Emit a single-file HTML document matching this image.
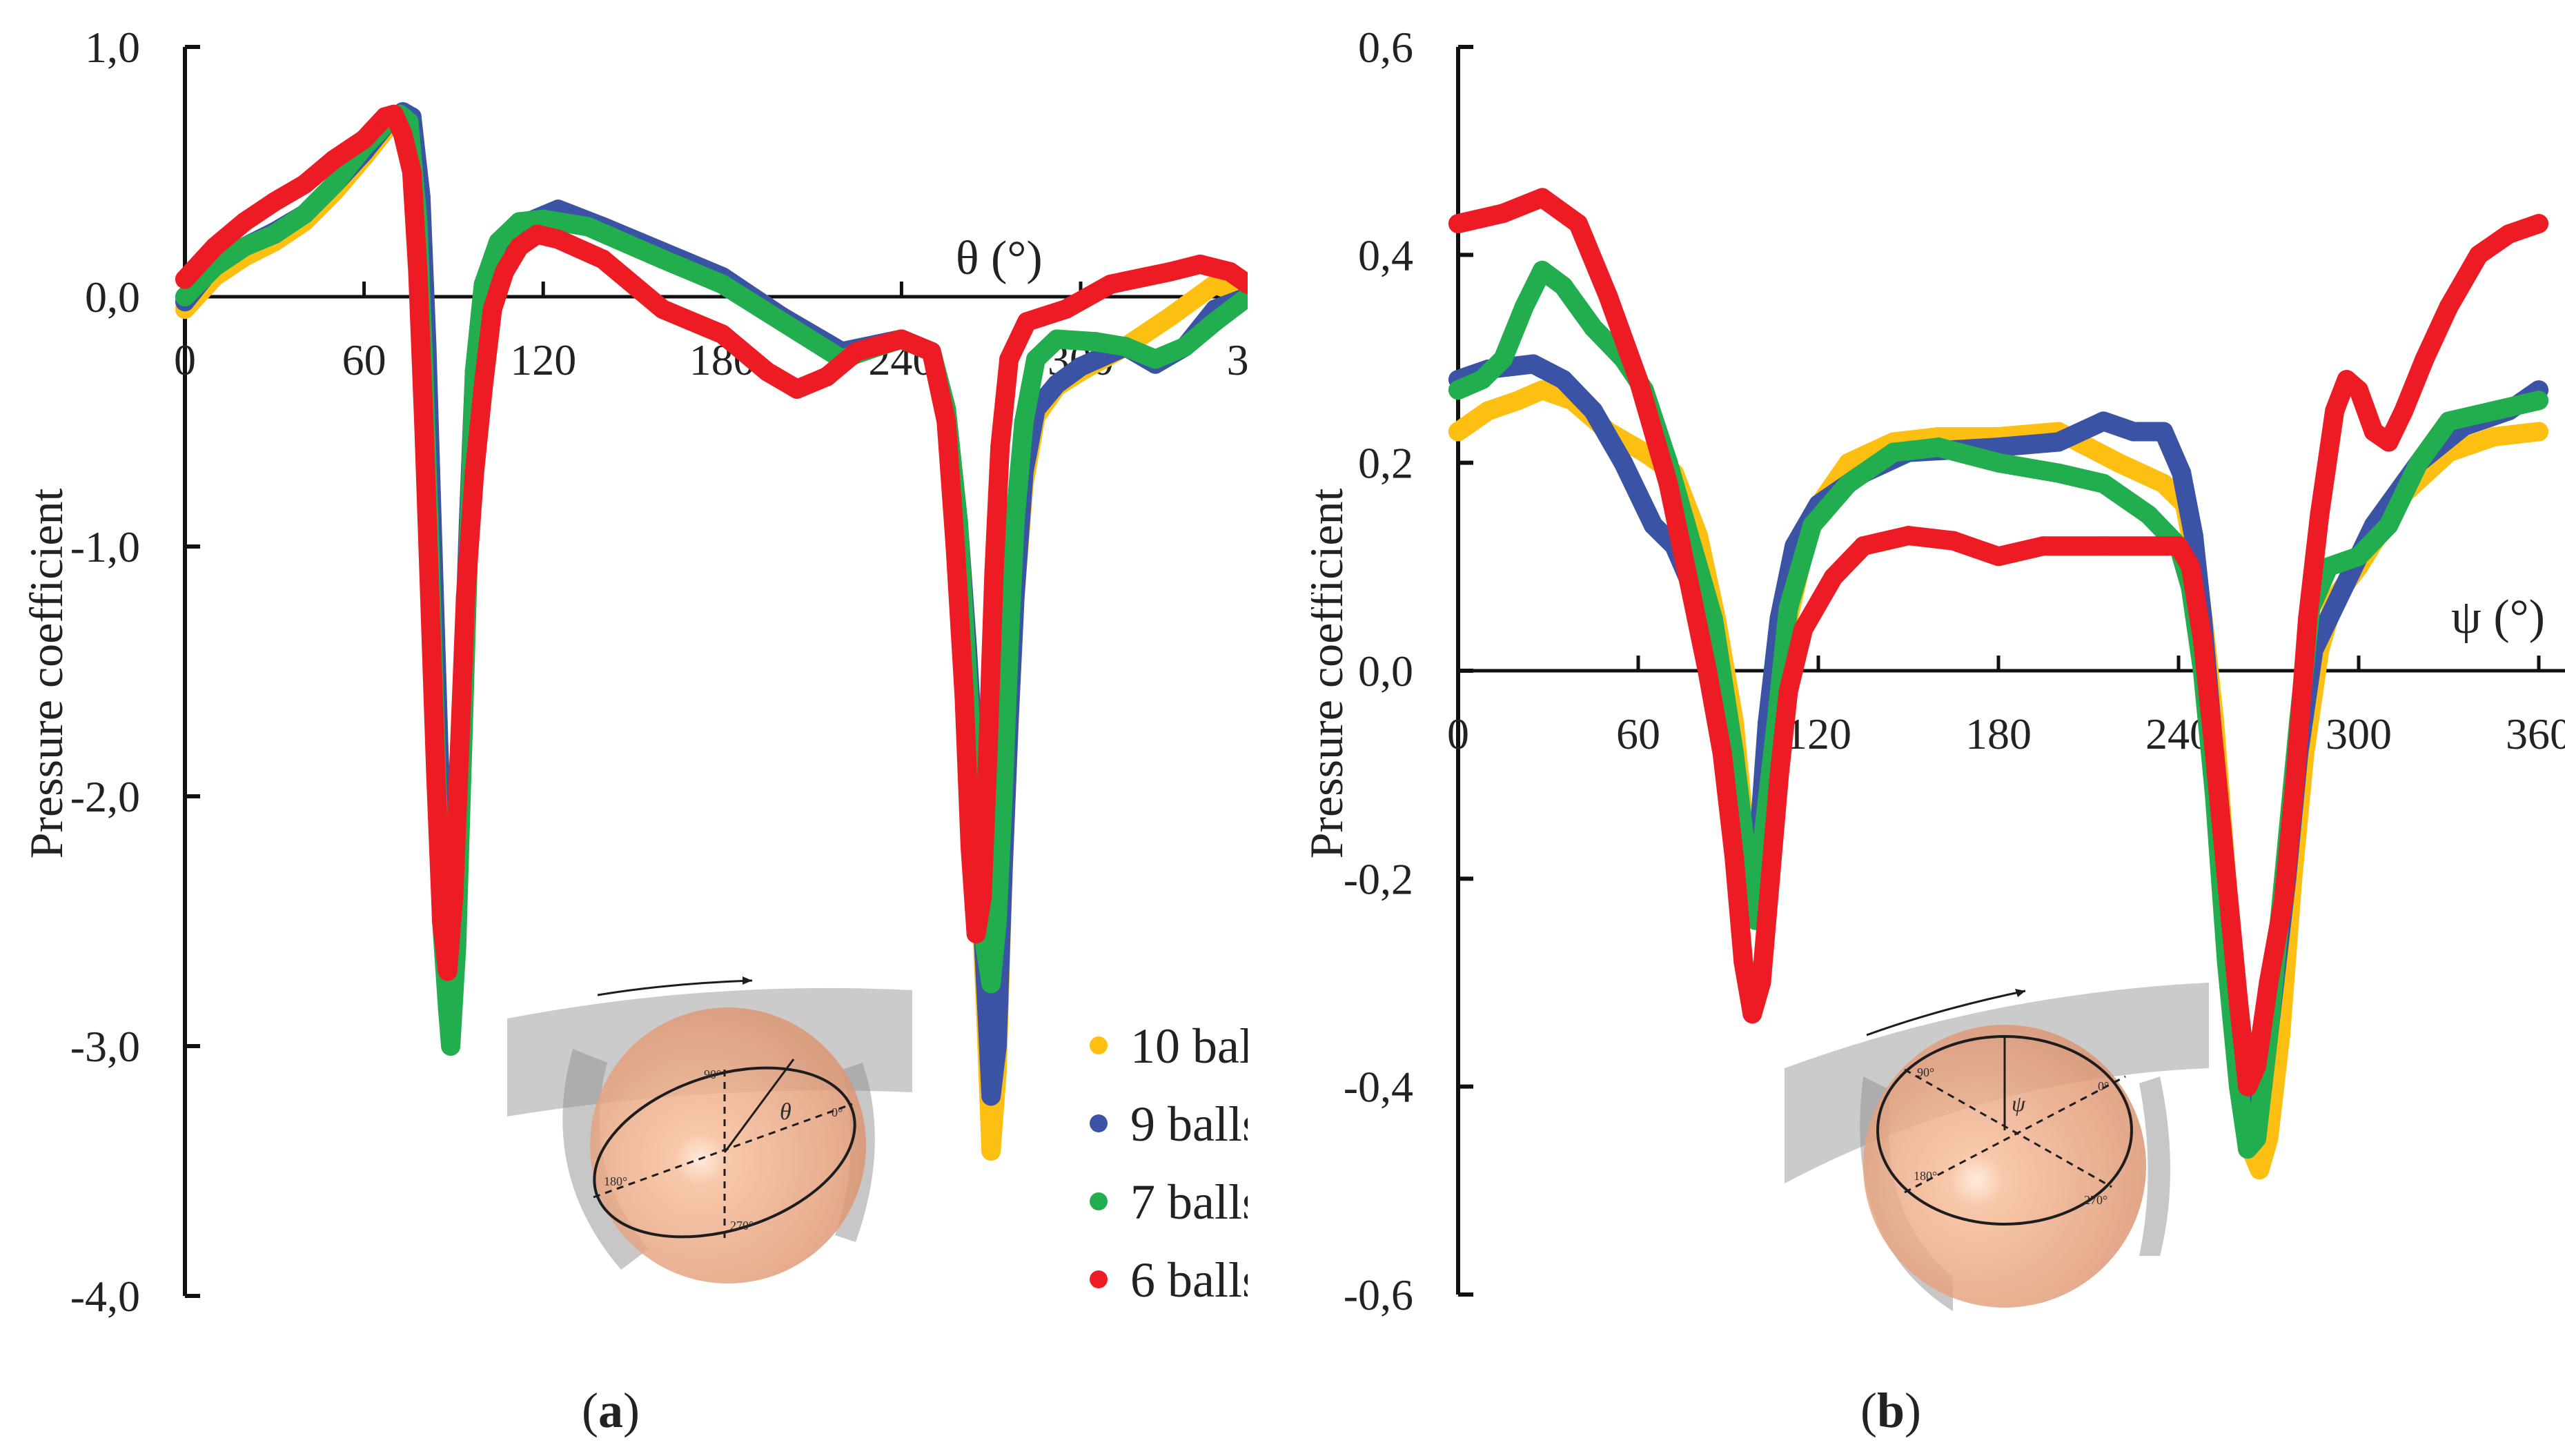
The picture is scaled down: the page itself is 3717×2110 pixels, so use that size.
<!DOCTYPE html>
<html><head><meta charset="utf-8"><style>
html,body{margin:0;padding:0;background:#fff}
svg{display:block}
text{font-family:"Liberation Serif",serif;fill:#222}
</style></head><body>
<svg id="fig" width="3717" height="2110" viewBox="0 0 3717 2110" xmlns="http://www.w3.org/2000/svg">
<defs>
<radialGradient id="ball" cx="0.4" cy="0.55" r="0.65">
<stop offset="0" stop-color="#fde7d8"/><stop offset="0.15" stop-color="#f6b994"/><stop offset="1" stop-color="#d88c68"/>
</radialGradient>
<clipPath id="clipA"><rect x="0" y="0" width="1808" height="2110"/></clipPath>
<clipPath id="clipB"><rect x="1900" y="0" width="1817" height="2110"/></clipPath>
</defs>
<g id="insetA" opacity="0.95">
<path d="M735 1476 Q1030 1420 1322 1435 L1322 1583 Q1030 1570 735 1618 Z" fill="#9a9a9a" opacity="0.55"/>
<path d="M830 1520 Q780 1700 900 1840 L940 1810 Q840 1690 880 1540 Z" fill="#8a8a8a" opacity="0.5"/>
<path d="M1250 1540 Q1290 1660 1240 1800 L1210 1790 Q1250 1670 1220 1550 Z" fill="#8a8a8a" opacity="0.5"/>
<circle cx="1055" cy="1660" r="200" fill="url(#ball)" opacity="0.85"/>
<ellipse cx="1050" cy="1670" rx="195" ry="112" transform="rotate(-18 1050 1670)" fill="none" stroke="#111" stroke-width="4"/>
<line x1="860" y1="1735" x2="1235" y2="1600" stroke="#111" stroke-width="3" stroke-dasharray="10 8"/>
<line x1="1050" y1="1550" x2="1050" y2="1800" stroke="#111" stroke-width="3" stroke-dasharray="10 8"/>
<line x1="1050" y1="1670" x2="1150" y2="1535" stroke="#111" stroke-width="3"/>
<path d="M866 1442 Q970 1425 1090 1421" fill="none" stroke="#111" stroke-width="3"/>
<path d="M1090 1421 l-14 -6 l0 12 z" fill="#111"/>
<text x="1020" y="1563" font-size="18">90°</text><text x="1205" y="1618" font-size="18">0°</text>
<text x="875" y="1718" font-size="18">180°</text><text x="1058" y="1782" font-size="18">270°</text>
<text x="1130" y="1622" font-size="34" font-style="italic">θ</text>
</g>
<g id="insetB" opacity="0.95">
<path d="M2586 1548 Q2880 1440 3201 1424 L3201 1548 Q2880 1560 2586 1715 Z" fill="#9a9a9a" opacity="0.55"/>
<path d="M2700 1560 Q2670 1800 2830 1900 L2830 1850 Q2720 1760 2740 1580 Z" fill="#8a8a8a" opacity="0.5"/>
<path d="M3130 1560 Q3160 1700 3130 1820 L3100 1820 Q3125 1700 3100 1570 Z" fill="#8a8a8a" opacity="0.5"/>
<circle cx="2905" cy="1690" r="205" fill="url(#ball)" opacity="0.85"/>
<ellipse cx="2905" cy="1638" rx="184" ry="136" fill="none" stroke="#111" stroke-width="4"/>
<line x1="2760" y1="1550" x2="3060" y2="1720" stroke="#111" stroke-width="3" stroke-dasharray="10 8"/>
<line x1="2760" y1="1728" x2="3080" y2="1560" stroke="#111" stroke-width="3" stroke-dasharray="10 8"/>
<line x1="2905" y1="1638" x2="2905" y2="1502" stroke="#111" stroke-width="3"/>
<path d="M2705 1500 Q2810 1462 2935 1436" fill="none" stroke="#111" stroke-width="3"/>
<path d="M2935 1436 l-15 -3 l4 12 z" fill="#111"/>
<text x="2778" y="1560" font-size="18">90°</text><text x="3040" y="1580" font-size="18">0°</text>
<text x="2773" y="1710" font-size="18">180°</text><text x="3020" y="1745" font-size="18">270°</text>
<text x="2915" y="1610" font-size="32" font-style="italic">ψ</text>
</g>
<g id="panelA" clip-path="url(#clipA)"></g>
<g id="panelB" clip-path="url(#clipB)"></g>
<text x="885" y="2068" font-size="72" text-anchor="middle">(<tspan font-weight="bold">a</tspan>)</text>
<text x="2740" y="2068" font-size="72" text-anchor="middle">(<tspan font-weight="bold">b</tspan>)</text>
</svg>
<script>
const NS="http://www.w3.org/2000/svg";
const colors=["#FDBF12","#3A53A4","#22AE4E","#ED1C24"];
const seriesNames=["10 balls","9 balls","7 balls","6 balls"];
const xTicks=[0,60,120,180,240,300,360];
const yTicksA=[1,0,-1,-2,-3,-4];
const yTickLabelsA=["1,0","0,0","-1,0","-2,0","-3,0","-4,0"];
const yTicksB=[0.6,0.4,0.2,0,-0.2,-0.4,-0.6];
const yTickLabelsB=["0,6","0,4","0,2","0,0","-0,2","-0,4","-0,6"];

const a10x=[0,10,20,30,40,50,60,68,73,76,79,81,83,85,87,89,90,91,93,95,97,100,106,115,125,140,160,180,200,220,240,250,255,259,262,265,268,270,272,274,276,278,281,285,292,300,315,330,345,356];
const a10y=[-0.05,0.08,0.16,0.22,0.3,0.42,0.56,0.68,0.73,0.7,0.4,-0.2,-1.0,-1.8,-2.4,-2.6,-2.6,-2.4,-1.6,-0.9,-0.3,0.05,0.22,0.3,0.33,0.28,0.18,0.08,-0.08,-0.22,-0.17,-0.22,-0.45,-0.9,-1.4,-2.0,-2.8,-3.42,-3.1,-2.3,-1.7,-1.2,-0.75,-0.48,-0.36,-0.3,-0.2,-0.08,0.05,0.0];
const a9x=[0,10,20,30,40,50,60,68,73,76,79,81,83,85,87,89,91,93,95,97,100,106,115,125,140,160,180,200,220,240,250,255,259,262,265,268,270,272,274,276,278,281,285,292,300,315,325,335,345,356];
const a9y=[-0.02,0.13,0.2,0.26,0.33,0.45,0.58,0.7,0.74,0.72,0.4,-0.2,-1.0,-1.8,-2.4,-2.6,-2.4,-1.6,-0.9,-0.3,0.05,0.22,0.3,0.35,0.28,0.18,0.08,-0.08,-0.22,-0.17,-0.22,-0.45,-0.9,-1.4,-2.0,-2.7,-3.2,-3.0,-2.3,-1.7,-1.2,-0.7,-0.45,-0.35,-0.28,-0.2,-0.27,-0.2,-0.05,0.0];
const a7x=[0,10,20,30,40,50,60,68,72,75,78,80,82,84,86,88,89,91,93,95,97,100,105,112,120,135,160,180,200,220,232,240,250,255,259,262,265,268,270,272,274,276,278,281,285,292,305,315,325,335,345,356];
const a7y=[0.0,0.12,0.2,0.25,0.33,0.45,0.6,0.7,0.73,0.7,0.3,-0.3,-1.0,-1.8,-2.5,-2.85,-3.0,-2.6,-1.8,-1.0,-0.3,0.05,0.22,0.3,0.31,0.28,0.15,0.05,-0.1,-0.25,-0.2,-0.17,-0.22,-0.45,-0.9,-1.5,-2.1,-2.6,-2.75,-2.5,-2.0,-1.4,-0.9,-0.5,-0.25,-0.17,-0.18,-0.2,-0.25,-0.2,-0.1,0.0];
const a6x=[0,10,20,30,40,50,60,67,70,73,76,78,80,82,84,86,88,90,92,94,97,100,103,107,112,118,125,140,160,180,195,205,215,225,240,250,255,258,261,263,265,267,269,271,273,276,282,295,310,330,340,350,356];
const a6y=[0.07,0.2,0.3,0.38,0.45,0.55,0.63,0.72,0.73,0.65,0.5,0.1,-0.5,-1.2,-1.9,-2.5,-2.7,-2.4,-1.8,-1.2,-0.7,-0.35,-0.05,0.1,0.2,0.25,0.23,0.15,-0.05,-0.15,-0.3,-0.37,-0.32,-0.22,-0.17,-0.22,-0.5,-1.0,-1.6,-2.2,-2.55,-2.4,-1.8,-1.1,-0.6,-0.25,-0.1,-0.05,0.05,0.1,0.13,0.1,0.05];

const b10x=[0,10,20,28,38,50,62,72,80,86,92,97,99,102,106,110,118,130,145,160,180,200,220,235,242,246,249,252,256,260,264,267,270,274,278,282,287,292,300,315,330,345,360];
const b10y=[0.23,0.25,0.26,0.27,0.26,0.23,0.21,0.19,0.13,0.05,-0.05,-0.2,-0.24,-0.15,-0.05,0.05,0.15,0.2,0.22,0.225,0.225,0.23,0.2,0.18,0.16,0.1,0.03,-0.05,-0.2,-0.35,-0.46,-0.48,-0.45,-0.35,-0.2,-0.08,0.02,0.07,0.1,0.17,0.21,0.225,0.23];
const b9x=[0,10,25,35,45,55,65,72,78,85,92,97,100,103,107,112,120,135,150,180,200,215,225,235,241,245,248,251,254,257,261,264,268,272,276,280,285,295,305,320,335,350,360];
const b9y=[0.28,0.29,0.295,0.28,0.25,0.2,0.14,0.12,0.08,0.0,-0.1,-0.2,-0.17,-0.05,0.05,0.12,0.16,0.19,0.21,0.215,0.22,0.24,0.23,0.23,0.19,0.13,0.05,-0.05,-0.15,-0.25,-0.36,-0.43,-0.4,-0.3,-0.2,-0.08,0.02,0.08,0.14,0.2,0.235,0.25,0.27];
const b7x=[0,8,15,22,28,35,45,55,62,70,78,85,92,97,99,102,106,110,118,130,145,160,180,200,215,230,240,244,248,252,256,260,263,266,270,275,280,284,290,300,310,320,330,345,360];
const b7y=[0.27,0.28,0.3,0.35,0.385,0.37,0.33,0.3,0.27,0.2,0.12,0.05,-0.08,-0.2,-0.24,-0.15,-0.05,0.06,0.14,0.18,0.21,0.215,0.2,0.19,0.18,0.15,0.12,0.08,0.0,-0.12,-0.28,-0.4,-0.46,-0.45,-0.35,-0.2,-0.05,0.06,0.1,0.11,0.14,0.2,0.24,0.25,0.26];
const b6x=[0,15,28,40,50,60,70,78,83,88,92,95,98,101,104,107,110,115,125,135,150,165,180,195,215,240,244,248,252,256,260,263,266,270,275,279,283,287,292,296,300,305,310,315,322,330,340,350,360];
const b6y=[0.43,0.44,0.455,0.43,0.36,0.28,0.18,0.07,0.0,-0.08,-0.18,-0.28,-0.33,-0.3,-0.2,-0.1,-0.02,0.04,0.09,0.12,0.13,0.125,0.11,0.12,0.12,0.12,0.1,0.03,-0.08,-0.2,-0.32,-0.4,-0.38,-0.3,-0.22,-0.1,0.05,0.15,0.25,0.28,0.27,0.23,0.22,0.25,0.3,0.35,0.4,0.42,0.43];

function mk(tag,attrs,parent){const e=document.createElementNS(NS,tag);for(const k in attrs)e.setAttribute(k,attrs[k]);parent.appendChild(e);return e;}

function panel(g,cfg){
  const X=v=>cfg.x0+v*cfg.px;
  const Y=v=>cfg.y0-v*cfg.py;
  const yTop=Y(cfg.yTicks[0]), yBot=Y(cfg.yTicks[cfg.yTicks.length-1]);
  const ax=mk('line',{x1:X(0),y1:yTop,x2:X(0),y2:yBot,stroke:'#111','stroke-width':6},g);
  
  
  cfg.yTicks.forEach((t,i)=>{
    const tk=mk('line',{x1:X(0),y1:Y(t),x2:X(0)+22,y2:Y(t),stroke:'#111','stroke-width':6},g);
    
    
    const tl=mk('text',{x:X(0)-65,y:Y(t)+22,'font-size':64,'text-anchor':'end'},g);
    tl.textContent=cfg.yLabels[i];
    
    
  });
  const xa=mk('line',{x1:X(0),y1:Y(0),x2:X(370),y2:Y(0),stroke:'#111','stroke-width':5},g);
  
  
  xTicks.forEach(t=>{
    if(t>0){const tk=mk('line',{x1:X(t),y1:Y(0),x2:X(t),y2:Y(0)-22,stroke:'#111','stroke-width':5},g);
    
    }
    const tl=mk('text',{x:X(t),y:Y(0)+113,'font-size':64,'text-anchor':'middle'},g);
    tl.textContent=String(t);
    
    
  });
  const yt=mk('text',{x:0,y:0,'font-size':68,'text-anchor':'middle',transform:`translate(${cfg.titleX},976) rotate(-90)`},g);
  yt.textContent='Pressure coefficient';
  
  
  const xt=mk('text',{x:cfg.xTitleX,y:cfg.xTitleY,'font-size':70},g);
  xt.textContent=cfg.xTitle;
  
  
  cfg.series.forEach((s,i)=>{
    const sg=mk('g',{},g);
    
    
    const pts=s[0].map((v,j)=>X(v).toFixed(1)+','+Y(s[1][j]).toFixed(1)).join(' ');
    const pl=mk('polyline',{points:pts,fill:'none',stroke:colors[i],'stroke-width':28,'stroke-linejoin':'round','stroke-linecap':'round'},sg);
    
    
    s[0].forEach((v,j)=>{
      const c=mk('circle',{cx:X(v),cy:Y(s[1][j]),r:14,fill:colors[i]},sg);
      
      
    });
  });
}
const gA=document.getElementById('panelA');


panel(gA,{x0:268,px:259.6/60,y0:430,py:362,yTicks:yTicksA,yLabels:yTickLabelsA,titleX:90,xTitle:'θ (°)',xTitleX:1385,xTitleY:397,
  series:[[a10x,a10y],[a9x,a9y],[a7x,a7y],[a6x,a6y]]});
const gB=document.getElementById('panelB');


panel(gB,{x0:2113,px:261/60,y0:972,py:1506.7,yTicks:yTicksB,yLabels:yTickLabelsB,titleX:1945,xTitle:'ψ (°)',xTitleX:3552,xTitleY:917,
  series:[[b10x,b10y],[b9x,b9y],[b7x,b7y],[b6x,b6y]]});
// legend
const lg=mk('g',{},gA);


seriesNames.forEach((n,i)=>{
  const cy=1515+i*113;
  const d=mk('circle',{cx:1592,cy:cy,r:13,fill:colors[i]},lg);
  
  
  const t=mk('text',{x:1638,y:cy+25,'font-size':72},lg);
  t.textContent=n;
  
  
});
</script>
</body></html>
